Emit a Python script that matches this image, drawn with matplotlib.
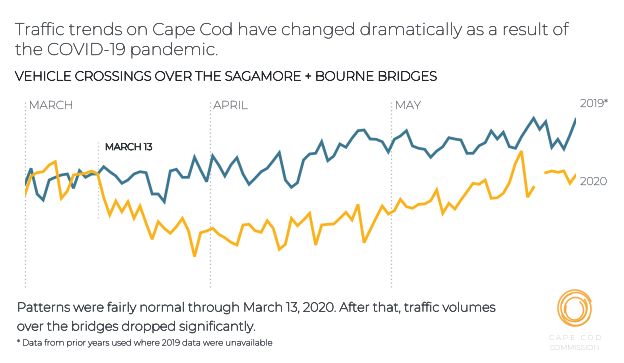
import numpy as np
import matplotlib
matplotlib.use('Agg')
import matplotlib.pyplot as plt
import matplotlib.patheffects as pe
from matplotlib.patches import Arc

W, H = 624, 363

# daily values, March 1 - May 31 (relative heights, no axis in the source)
days = np.arange(92)
traffic_2019 = [106, 121.7, 96, 90, 110, 112.7, 115, 116, 101.7, 119.3,
                112.7, 116, 116, 123.3, 118.3, 114, 106.7, 110, 116, 118.3,
                117.3, 96, 96, 88.3, 119, 120.7, 112.7, 112.7, 132.7, 120,
                108.3, 134, 125, 114, 125, 132.3, 116, 105.7, 111.7, 118.3,
                121.7, 129.3, 137.3, 110, 102.7, 107.3, 130, 136, 136.7, 148.3,
                129.3, 134, 146, 142.7, 151.7, 159.3, 160, 151, 150.7, 148.3,
                138, 150.7, 154, 159.3, 144, 141.7, 140.7, 132.7, 139, 143.3,
                152.3, 151, 150, 136.7, 136.7, 144.3, 147.3, 159, 151, 157.7,
                143.3, 141.7, 153.3, 162.7, 171.7, 160.7, 168.3, 142.7, 150.7, 141,
                155, 170.7]
traffic_2020 = [95.7, 114, 117.3, 118.3, 125, 128.3, 91.7, 99, 115, 116,
                116.7, 119, 116, 92.5, 75, 89, 78.3, 88.3, 71.7, 84,
                66.7, 50.7, 68.3, 61.7, 56.7, 63.3, 71.7, 59.3, 33.3, 57.3,
                59, 61.7, 55.7, 52.3, 47.7, 45, 65, 65.7, 59.3, 57.7,
                69.3, 61.7, 40.7, 45.7, 71.7, 64.3, 70, 76.7, 45, 65,
                65.7, 66, 71.7, 77.7, 70, 85.7, 47.3, 60, 72.3, 84,
                76, 79.3, 90.7, 83.3, 81.7, 85.7, 86, 89.3, 100, 76.7,
                86.7, 81, 90, 98.3, 106.7, 105.7, 110, 91.7, 92.3, 96.7,
                107.3, 126.7, 139, 92.7, 102.7, np.nan, 117.3, 119, 117.7, 119,
                106.7, 115]

months = ['MARCH', 'APRIL', 'MAY']
month_starts = [0, 30.5, 60.5]
march13 = 12

BLUE = '#3b7790'
ORANGE = '#fbb21a'
GREY = '#6f747a'
DARK = '#464b51'

plt.rcParams['font.family'] = ['Montserrat', 'Open Sans', 'DejaVu Sans']


def thick(w, c):
    # the installed Montserrat has one weight only, so fake heavier ones
    return [pe.withStroke(linewidth=w, foreground=c)]


fig = plt.figure(figsize=(W / 100, H / 100), dpi=100)
fig.patch.set_facecolor('white')


def px(x, y):
    # pixel position (from top-left) -> figure fraction
    return x / W, 1 - y / H


ax = fig.add_axes([25 / W, (H - 290) / H, 551 / W, 190 / H])
ax.set_xlim(0, 91)
ax.set_ylim(0, 190)
ax.axis('off')

for m, d in zip(months, month_starts):
    ax.plot([d, d], [3, 190], color='#b5b5b5', lw=0.9, ls=(0, (1, 2)), clip_on=False)
    ax.text(d + 0.6, 184, m, color=GREY, fontsize=8.3, va='center', ha='left',
            path_effects=thick(0.2, GREY))

ax.plot([march13, march13], [72, 148], color='#c5c5c5', lw=0.9, ls=(0, (1, 2)))
ax.text(march13 + 1.2, 142.5, 'MARCH 13', color='#2f3438', fontsize=6.8,
        va='center', ha='left', path_effects=thick(0.6, '#2f3438'))

ax.plot(days, traffic_2019, color=BLUE, lw=2.0, solid_joinstyle='miter', zorder=3)
ax.plot(days, traffic_2020, color=ORANGE, lw=2.0, solid_joinstyle='miter', zorder=3)

ax.text(91.7, 186, '2019*', color=GREY, fontsize=8, va='center', ha='left',
        clip_on=False, path_effects=thick(0.2, GREY))
ax.text(91.7, 108, '2020', color=GREY, fontsize=8, va='center', ha='left',
        clip_on=False, path_effects=thick(0.2, GREY))

# titles
fig.text(*px(15, 30), 'Traffic trends on Cape Cod have changed dramatically as a result of',
         fontsize=12.2, color=DARK, va='center', ha='left', path_effects=thick(0.3, DARK))
fig.text(*px(15, 50), 'the COVID-19 pandemic.',
         fontsize=12.2, color=DARK, va='center', ha='left', path_effects=thick(0.3, DARK))
fig.text(*px(15, 77), 'VEHICLE CROSSINGS OVER THE SAGAMORE + BOURNE BRIDGES',
         fontsize=9.3, color='#24282c', va='center', ha='left',
         path_effects=thick(0.5, '#24282c'))

# notes
for y, s in [(308, 'Patterns were fairly normal through March 13, 2020. After that, traffic volumes'),
             (327, 'over the bridges dropped significantly.')]:
    fig.text(*px(17, y), s, fontsize=9.2, color=DARK, va='center', ha='left',
             path_effects=thick(0.45, DARK))
fig.text(*px(17, 343), '* Data from prior years used where 2019 data were unavailable',
         fontsize=6.1, color=DARK, va='center', ha='left', path_effects=thick(0.25, DARK))

# logo
lax = fig.add_axes([555 / W, (H - 328) / H, 40 / W, 40 / H])
lax.set_xlim(-20, 20)
lax.set_ylim(-20, 20)
lax.set_aspect('equal')
lax.axis('off')
rings = [(0, 0, 34, 36, 0, 20, 330), (1, -1, 30, 33, 0, 200, 520),
         (-1, 0.5, 26, 28, 0, 100, 400), (0.5, -1.5, 22, 24, 0, 260, 560),
         (-0.5, -2, 18, 20, 0, 150, 420)]
for cx, cy, w, h, ang, t1, t2 in rings:
    lax.add_patch(Arc((cx, cy), w, h, angle=ang, theta1=t1, theta2=t2,
                      color='#f6a83c', lw=1.1))
fig.text(*px(575, 338), 'C A P E   C O D', fontsize=5.2, color=GREY, ha='center', va='center')
fig.text(*px(575, 348), 'COMMISSION', fontsize=5.2, color=GREY, ha='center', va='center')

fig.savefig('out.png', dpi=100, facecolor='white')
